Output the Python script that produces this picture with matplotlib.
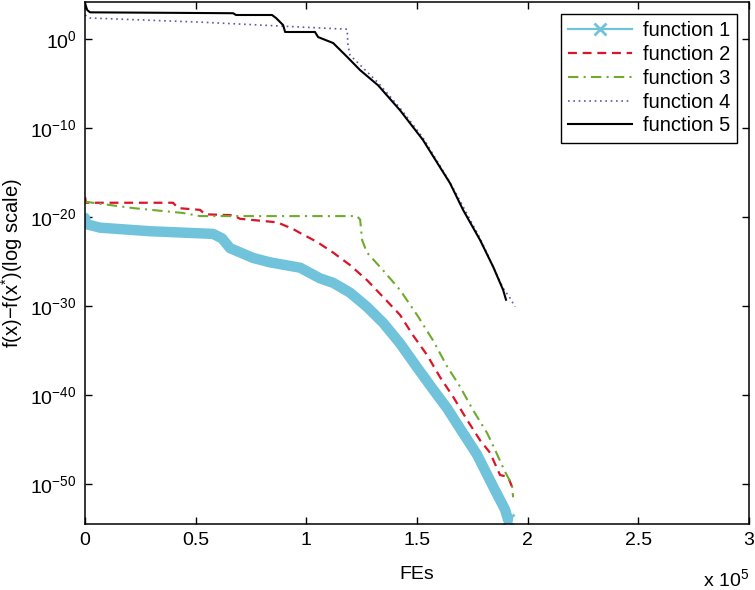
import matplotlib
matplotlib.use('Agg')
import matplotlib.pyplot as plt
from matplotlib.lines import Line2D
from matplotlib.ticker import FixedLocator, FuncFormatter, NullLocator
import numpy as np

plt.rcParams['font.family'] = ['Liberation Sans', 'DejaVu Sans']
plt.rcParams['mathtext.fontset'] = 'custom'
plt.rcParams['mathtext.rm'] = 'Liberation Sans'
plt.rcParams['mathtext.it'] = 'Liberation Sans:italic'

# Datos: FEs y exponente log10 de f(x)-f(x*)
fe1 = [0, 500, 6800, 29400, 57800, 61900, 65500, 75900, 83600, 97200, 106200, 112100,
       119700, 127400, 134700, 142300, 150000, 157300, 163600, 169000, 177100, 184400,
       189800, 191100]
f1_log = [-20.1, -20.8, -21.2, -21.6, -21.9, -22.4, -23.5, -24.6, -25.1, -25.7, -26.9, -27.4,
          -28.5, -30.1, -31.9, -34.2, -36.9, -39.4, -41.5, -43.6, -46.7, -50.3,
          -52.9, -54.0]

fe2 = [0, 500, 39800, 42000, 52000, 54200, 66900, 70000, 86800, 94000, 97200, 104800,
       112100, 119700, 127400, 134700, 142300, 148200, 154500, 160400, 166300, 172600,
       178500, 183000, 187500, 191100, 192900]
f2_log = [-17.75, -18.4, -18.4, -19.0, -19.2, -19.7, -19.8, -20.2, -20.6, -21.35, -21.8, -22.8,
          -24.0, -25.4, -27.1, -29.0, -31.0, -33.3, -35.5, -38.0, -40.2, -42.8,
          -45.1, -46.5, -49.0, -49.2, -50.3]

fe3 = [0, 500, 21700, 44300, 52000, 122900, 124300, 125200, 127400, 134700, 142300,
       150000, 157300, 163600, 169500, 175300, 181700, 185300, 189800, 192900, 193400]
f3_log = [-18.1, -18.3, -19.0, -19.55, -19.9, -19.9, -20.3, -22.6, -24.0, -26.0, -28.2,
          -31.0, -33.9, -36.8, -39.1, -41.7, -44.3, -46.2, -48.65, -50.1, -51.5]

fe4 = [0, 2300, 52000, 97200, 118400, 118800, 119700, 132400, 142300, 152700, 164900,
       178500, 188900, 192000, 194300]
f4_log = [2.7, 2.36, 1.9, 1.35, 1.1, -0.7, -1.8, -4.9, -7.75, -11.1, -16.1,
          -22.4, -28.0, -29.1, -30.1]

fe5 = [0, 1000, 2300, 66900, 68200, 84500, 86300, 89500, 90400, 103900, 105300, 112100,
       118400, 124300, 132400, 142300, 152700, 159100, 164900, 170800, 178500, 184400,
       188900, 190200]
f5_log = [4.0, 3.25, 3.0, 2.9, 2.7, 2.7, 2.36, 1.57, 0.79, 0.79, 0.22, -0.45,
          -2.0, -3.5, -5.2, -8.0, -11.35, -13.9, -16.2, -19.2, -22.6, -25.6,
          -28.2, -29.3]

nombres = ['function 1', 'function 2', 'function 3', 'function 4', 'function 5']
c_cyan = '#70C3DA'
c_rojo = '#DC1428'
c_verde = '#6FAA2C'
c_morado = '#5A5AA8'
c_negro = 'black'

fig = plt.figure(figsize=(7.55, 5.9), dpi=100)
ax = fig.add_axes([0.1126, 0.1119, 0.8795, 0.8847])

# function 1: banda gruesa (marcadores muy densos en el original)
ax.plot(fe1, 10.0 ** np.array(f1_log), color=c_cyan, lw=7.5, solid_capstyle='round',
        solid_joinstyle='round')
ax.plot(fe1[-1:], 10.0 ** np.array(f1_log[-1:]), 'x', color=c_cyan, ms=8, mew=2)
ax.plot(fe2, 10.0 ** np.array(f2_log), color=c_rojo, lw=1.6, linestyle=(0, (4, 2.6)))
ax.plot(fe3, 10.0 ** np.array(f3_log), color=c_verde, lw=1.5, linestyle=(0, (5, 2.5, 1, 2.5)))
ax.plot(fe4, 10.0 ** np.array(f4_log), color=c_morado, lw=1.2, linestyle=(0, (1, 2.2)))
ax.plot(fe5, 10.0 ** np.array(f5_log), color=c_negro, lw=1.5)

ax.set_yscale('log')
ax.set_xlim(0, 3e5)
ax.set_ylim(10 ** -54.5, 10 ** 4.16)

ax.xaxis.set_major_locator(FixedLocator([0, 0.5e5, 1e5, 1.5e5, 2e5, 2.5e5, 3e5]))
ax.xaxis.set_major_formatter(FuncFormatter(lambda v, p: '%g' % (v / 1e5)))
ax.yaxis.set_major_locator(FixedLocator([1e-50, 1e-40, 1e-30, 1e-20, 1e-10, 1e0]))
ax.yaxis.set_major_formatter(FuncFormatter(
    lambda v, p: r'$\mathregular{10^{%d}}$' % round(np.log10(v))))
ax.yaxis.set_minor_locator(NullLocator())
ax.xaxis.set_minor_locator(NullLocator())

ax.tick_params(direction='in', length=5, width=1, top=True, right=True,
               labelsize=14, pad=6)
for s in ax.spines.values():
    s.set_linewidth(1.1)

ax.set_xlabel('FEs', fontsize=14, labelpad=12)
ax.set_ylabel(r'f(x)$-$f(x$^{*}$)(log scale)', fontsize=14.5, labelpad=4)
ax.text(1.0, -0.105, r'x 10$^{5}$', transform=ax.transAxes, fontsize=14,
        ha='right', va='center')

handles = [
    Line2D([], [], color=c_cyan, lw=1.6, marker='x', ms=8, mew=2),
    Line2D([], [], color=c_rojo, lw=1.6, linestyle=(0, (4, 2.6))),
    Line2D([], [], color=c_verde, lw=1.5, linestyle=(0, (5, 2.5, 1, 2.5))),
    Line2D([], [], color=c_morado, lw=1.2, linestyle=(0, (1, 2.2))),
    Line2D([], [], color=c_negro, lw=1.5),
]
leg = ax.legend(handles, nombres, loc='upper right', fontsize=14.5, fancybox=False,
                edgecolor='black', framealpha=1, handlelength=3.2, handletextpad=0.5,
                labelspacing=0.24, borderpad=0.35, borderaxespad=0.6, markerfirst=True)
leg.get_frame().set_linewidth(1.0)

fig.savefig('out.png', dpi=100)
